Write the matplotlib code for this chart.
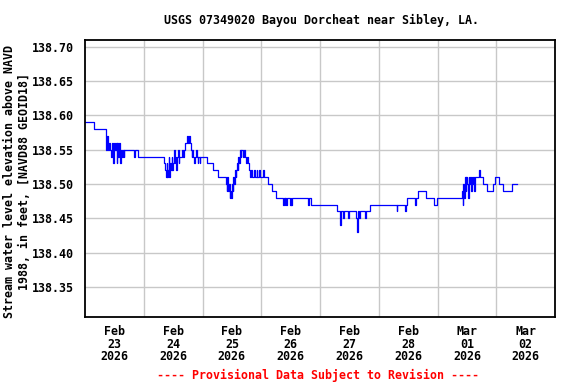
import matplotlib
matplotlib.use("Agg")
import matplotlib.pyplot as plt

# hours since Feb 23 2026 00:00 (step changes) and gage height, ft
hours = [
    0.0, 3.7, 8.6, 8.9, 9.2, 9.5, 9.8, 10.3, 10.6, 10.9, 11.3, 11.6, 11.9, 12.3,
    12.6, 12.9, 13.2, 13.6, 13.9, 14.2, 14.5, 14.8, 15.1, 15.4, 15.8, 16.1,
    20.1, 20.4, 21.8,
    32.4, 32.7, 33.0, 33.3, 33.6, 33.9, 34.2, 34.5, 34.8, 35.1, 35.4, 35.7, 36.0,
    36.3, 36.6, 37.0, 37.3, 37.6, 38.0, 38.3, 38.6, 39.5, 40.0, 40.4, 41.0, 41.6,
    41.9, 42.5, 42.8, 43.3, 43.6, 43.9, 44.3, 44.6, 44.9, 45.3, 45.6, 46.0, 46.3,
    46.8, 47.1,
    49.8, 52.3, 54.3,
    57.6, 57.9, 58.2, 58.5, 58.8, 59.1, 59.4, 59.7, 60.0, 60.3, 60.6, 60.9, 61.2,
    61.5, 61.8, 62.1, 62.4, 62.7, 63.0, 63.3, 63.6, 63.9, 64.5, 64.8, 65.2, 65.8,
    66.2, 66.5, 67.0, 67.6, 68.0, 68.3, 69.1, 69.4, 70.1, 70.4, 71.2, 71.5, 72.8,
    73.1,
    74.8, 76.4, 78.0,
    80.9, 81.2, 81.6, 81.9, 82.2, 82.5, 83.7, 84.0, 84.3, 84.6, 91.3, 91.6, 92.3,
    102.9, 104.2, 104.5, 105.5, 105.8, 107.6, 107.9, 110.8, 111.1, 111.4, 111.7,
    112.0, 112.3, 114.4, 114.7, 116.4,
    127.3, 127.6, 130.7, 131.0, 131.4, 134.8, 135.1, 136.0, 139.5, 142.7, 143.7,
    154.0, 154.3, 154.6, 154.9, 155.2, 155.5, 155.8, 156.1, 156.4, 156.7, 157.0,
    157.3, 157.6, 157.9, 158.2, 158.5, 158.9, 159.2,
    161.0, 161.3, 162.7, 164.1, 166.8, 167.5, 169.2, 170.6, 174.3, 176.5,
]
stage = [
    138.59, 138.58, 138.55, 138.57, 138.56, 138.55, 138.56, 138.55, 138.54, 138.56,
    138.54, 138.53, 138.56, 138.55, 138.56, 138.53, 138.56, 138.54, 138.56, 138.55,
    138.53, 138.55, 138.54, 138.55, 138.54, 138.55,
    138.54, 138.55, 138.54,
    138.53, 138.52, 138.51, 138.53, 138.51, 138.52, 138.54, 138.51, 138.53, 138.52,
    138.54, 138.52, 138.53, 138.55, 138.53, 138.54, 138.52, 138.54, 138.55, 138.53,
    138.54, 138.55, 138.54, 138.55, 138.56, 138.57, 138.56, 138.57, 138.56, 138.55,
    138.54, 138.55, 138.54, 138.53, 138.54, 138.55, 138.54, 138.53, 138.54,
    138.53, 138.54,
    138.53, 138.52, 138.51,
    138.50, 138.49, 138.51, 138.49, 138.50, 138.48, 138.49, 138.48, 138.50, 138.49,
    138.51, 138.50, 138.52, 138.51, 138.52, 138.53, 138.52, 138.54, 138.53, 138.55,
    138.54, 138.55, 138.54, 138.55, 138.54, 138.53, 138.54, 138.53, 138.52, 138.51,
    138.52, 138.51, 138.52, 138.51, 138.52, 138.51, 138.52, 138.51, 138.52,
    138.51,
    138.50, 138.49, 138.48,
    138.47, 138.48, 138.47, 138.48, 138.47, 138.48, 138.47, 138.48, 138.47, 138.48,
    138.47, 138.48, 138.47,
    138.46, 138.44, 138.46, 138.45, 138.46, 138.45, 138.46, 138.45, 138.43, 138.44,
    138.46, 138.45, 138.46, 138.45, 138.46, 138.47,
    138.46, 138.47, 138.46, 138.47, 138.48, 138.47, 138.48, 138.49, 138.48, 138.47,
    138.48,
    138.49, 138.47, 138.50, 138.48, 138.51, 138.49, 138.51, 138.50, 138.48, 138.51,
    138.50, 138.51, 138.49, 138.51, 138.50, 138.51, 138.49, 138.51,
    138.52, 138.51, 138.50, 138.49, 138.50, 138.51, 138.50, 138.49, 138.50, 138.50,
]

day_labels = ["Feb\n23\n2026", "Feb\n24\n2026", "Feb\n25\n2026", "Feb\n26\n2026",
              "Feb\n27\n2026", "Feb\n28\n2026", "Mar\n01\n2026", "Mar\n02\n2026"]
y_ticks = [138.35, 138.40, 138.45, 138.50, 138.55, 138.60, 138.65, 138.70]

mono = "DejaVu Sans Mono"
fs = 8.4

fig = plt.figure(figsize=(5.76, 3.84), dpi=100)
ax = fig.add_axes([85 / 576, 1 - 317 / 384, 470 / 576, 277 / 384])

ax.plot(hours, stage, drawstyle="steps-post", color="#0000ff", lw=0.9)

ndays = len(day_labels)
ax.set_xlim(0, 24 * ndays)
ax.set_ylim(138.306, 138.71)

# gridlines at midnight, labels at noon
ax.set_xticks([24 * i for i in range(1, ndays)], minor=True)
ax.set_xticks([24 * i + 12 for i in range(ndays)])
ax.set_xticklabels(day_labels, fontfamily=mono, fontweight="bold", fontsize=fs,
                   linespacing=0.95)
ax.set_yticks(y_ticks)
ax.set_yticklabels([f"{v:.2f}" for v in y_ticks], fontfamily=mono,
                   fontweight="bold", fontsize=fs)
ax.tick_params(axis="both", which="both", length=0)
ax.tick_params(axis="x", pad=6)
ax.tick_params(axis="y", pad=8)

ax.grid(True, which="minor", axis="x", color="#c8c8c8", lw=1)
ax.grid(True, which="major", axis="y", color="#c8c8c8", lw=1)
ax.set_axisbelow(True)
for s in ax.spines.values():
    s.set_linewidth(1.3)
    s.set_color("black")

fig.text(321 / 576, 1 - 20 / 384, "USGS 07349020 Bayou Dorcheat near Sibley, LA.",
         ha="center", va="center", fontfamily=mono, fontweight="bold", fontsize=fs)
fig.text(17 / 576, 1 - 181 / 384,
         "Stream water level elevation above NAVD\n1988, in feet, [NAVD88 GEOID18]",
         ha="center", va="center", rotation=90, fontfamily=mono, fontweight="bold",
         fontsize=fs, linespacing=1.15)
fig.text(318 / 576, 1 - 375 / 384, "---- Provisional Data Subject to Revision ----",
         ha="center", va="center", color="red", fontfamily=mono, fontweight="bold",
         fontsize=fs)

fig.savefig("out.png", dpi=100)
